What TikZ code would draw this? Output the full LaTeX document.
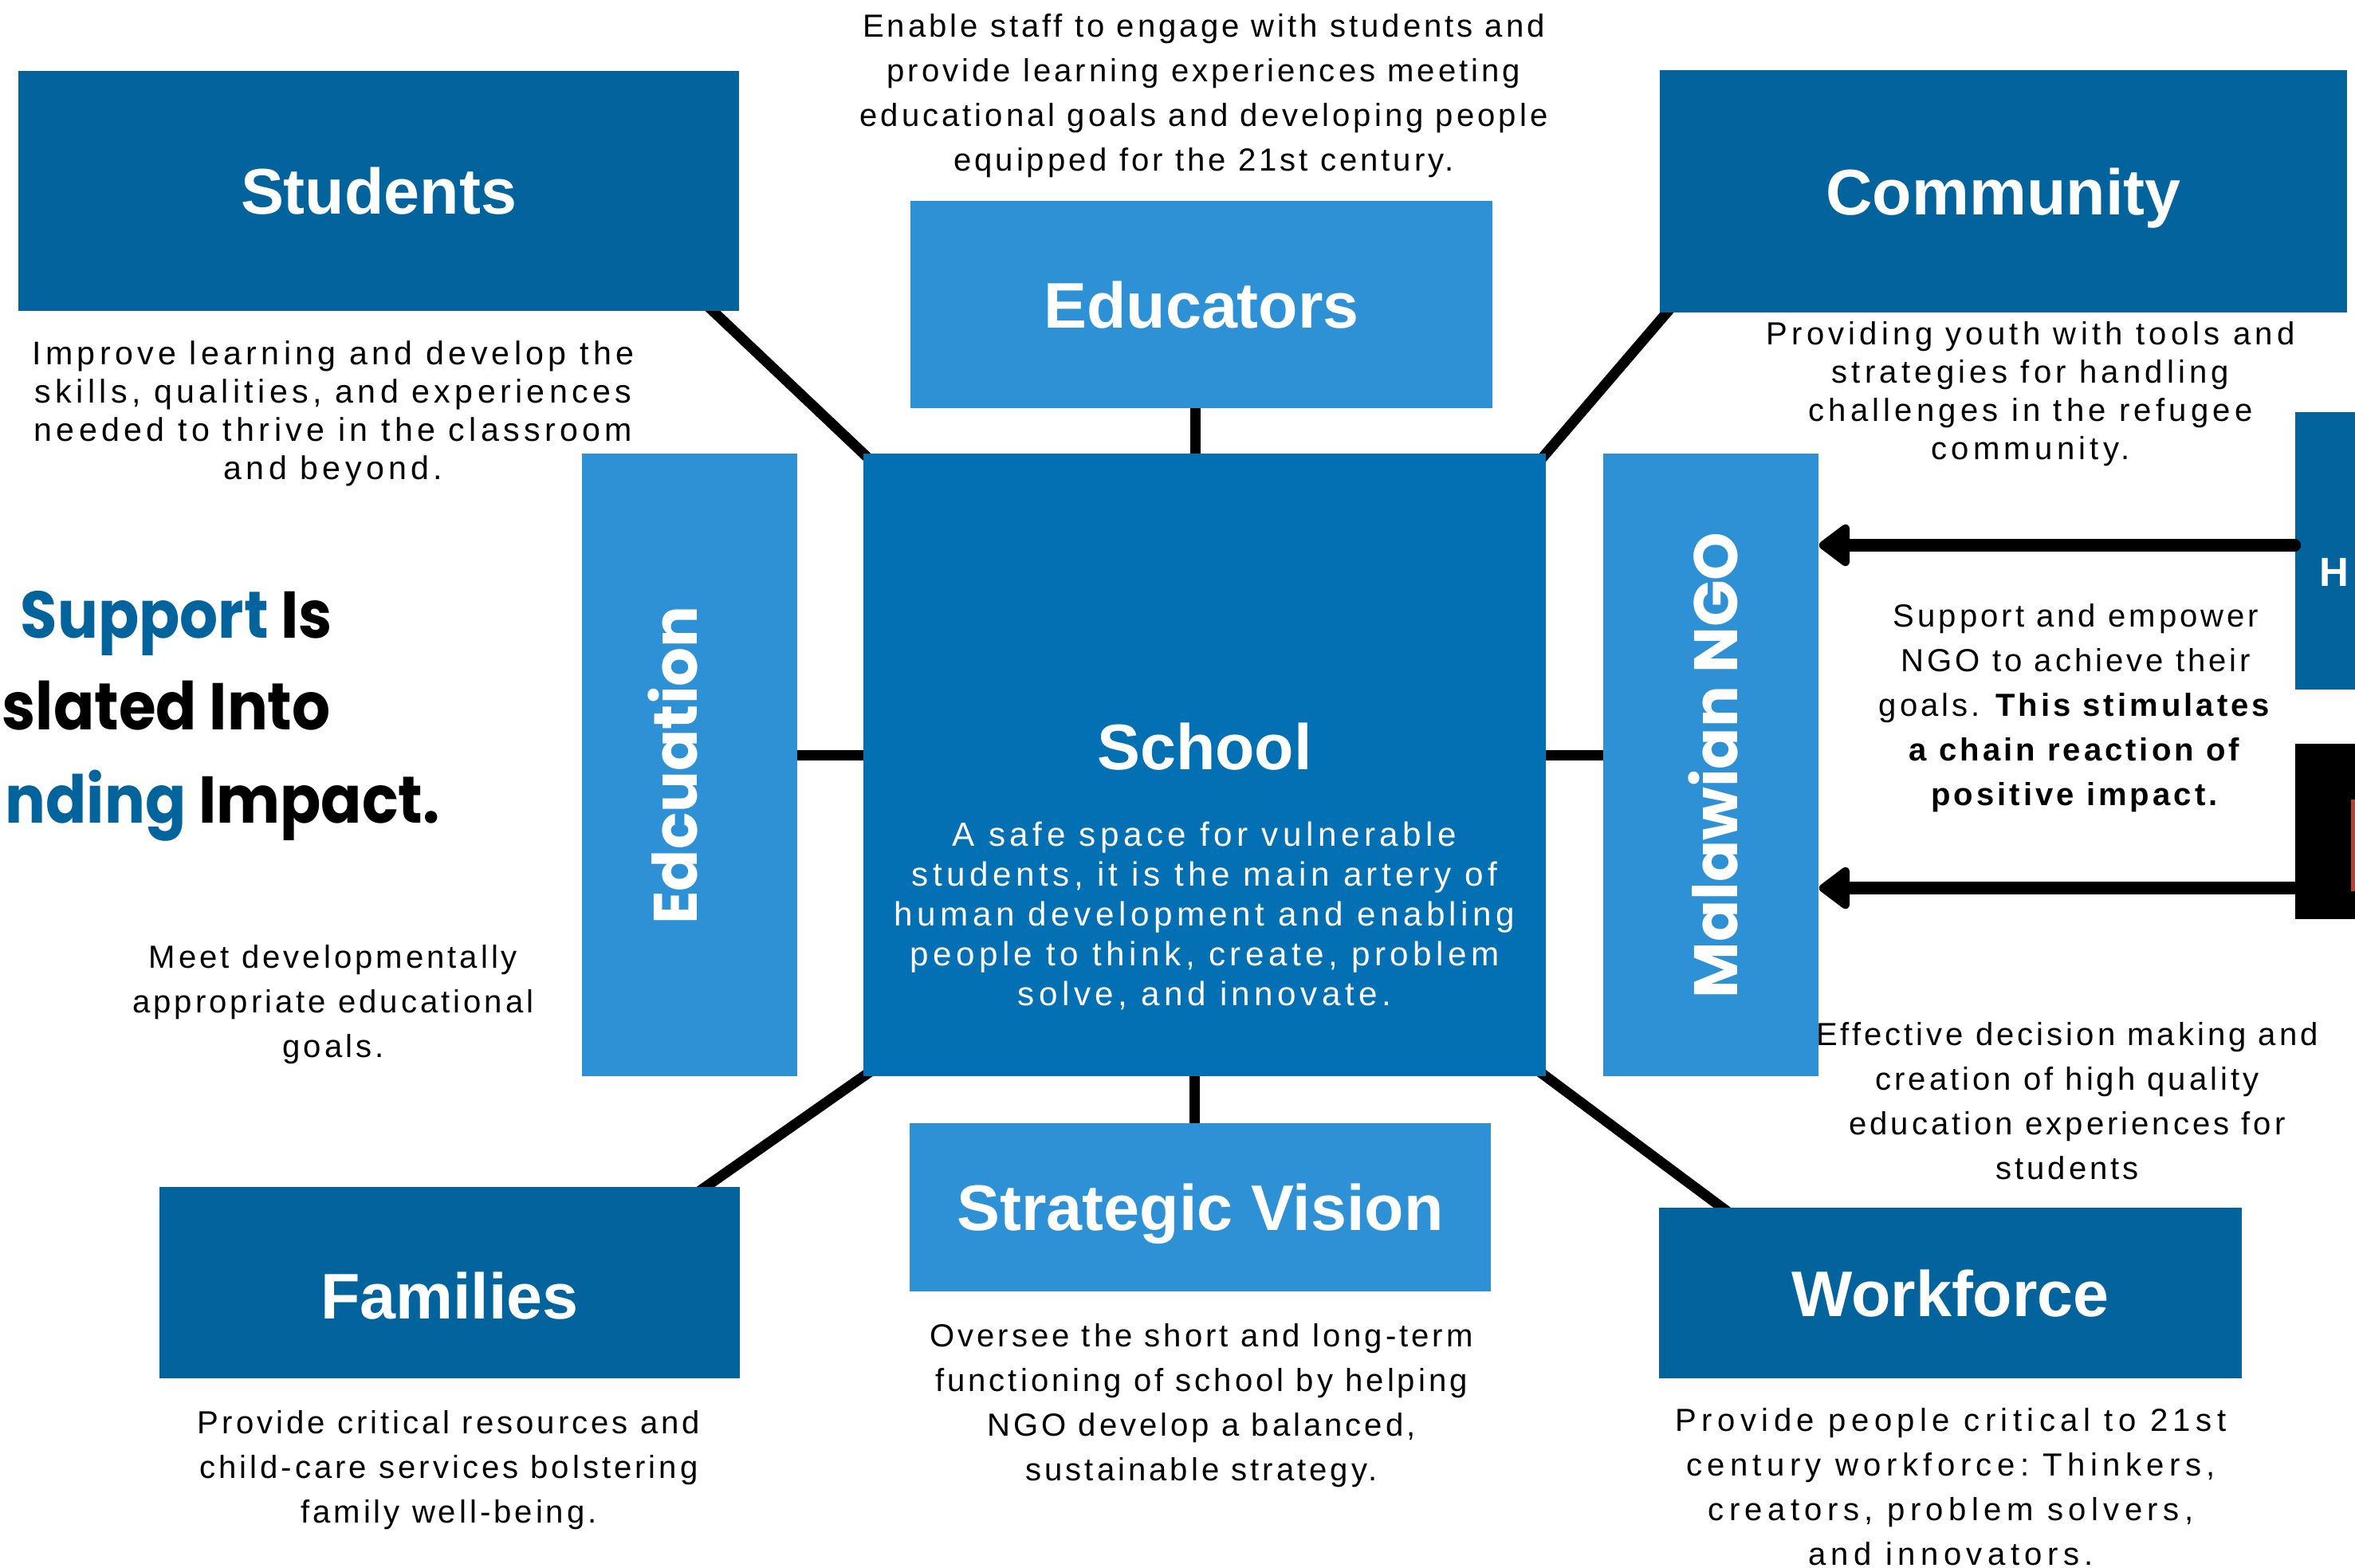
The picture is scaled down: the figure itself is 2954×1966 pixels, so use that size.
\documentclass[tikz,border=0pt]{standalone}
\usepackage{fontspec}
\setmainfont{Liberation Sans}
\newfontfamily\descfont{Liberation Sans}[LetterSpace=10]
\newfontfamily\widefont{Liberation Sans}[LetterSpace=13]
\newfontfamily\widerfont{Liberation Sans}[LetterSpace=16]
\newfontfamily\headfont{Poppins}
\newfontfamily\bannerfont{Poppins}[FakeStretch=0.91]
\usetikzlibrary{arrows.meta}
\frenchspacing

\pgfdeclarelayer{bg}
\pgfsetlayers{bg,main}

\definecolor{darkblue}{HTML}{03639C}
\definecolor{schoolblue}{HTML}{0270B3}
\definecolor{lightblue}{HTML}{2E91D6}
\definecolor{sliver}{HTML}{B8442C}

\tikzset{
  box/.style={fill=#1, draw=none, inner sep=0pt, text=white, text height=16.6pt, text depth=0pt, font=\fontsize{23pt}{27pt}\selectfont\bfseries},
  sidelabel/.style={rotate=90, inner sep=0pt, text=white, font=\headfont\fontsize{21.9pt}{26pt}\selectfont\bfseries},
  desc/.style={anchor=north, inner sep=0pt, align=center, font=\descfont\fontsize{11.4pt}{#1}\selectfont},
  widedesc/.style={anchor=north, inner sep=0pt, align=center, font=\widefont\fontsize{11.7pt}{#1}\selectfont},
  headline/.style={anchor=base west, inner sep=0pt, font=\bannerfont\fontsize{23.6pt}{28pt}\selectfont\bfseries},
  link/.style={line width=3.7pt, shorten <=-5pt, shorten >=-5pt},
  feed/.style={line width=4.55pt, line cap=round, -{Triangle[length=0.42cm, width=0.6cm, round]}},
}

\begin{document}
\begin{tikzpicture}[x=0.01cm, y=-0.01cm]
    \useasboundingbox (0,0) rectangle (2954,1966);
    \clip (0,0) rectangle (2954,1966);

    % outer boxes
    \node[box=darkblue, minimum width=9.04cm, minimum height=3.01cm] (students) at (475,239.5) {Students};
    \node[box=lightblue, minimum width=7.30cm, minimum height=2.60cm] (educators) at (1507,382) {Educators};
    \node[box=darkblue, minimum width=8.62cm, minimum height=3.04cm] (community) at (2513,240) {Community};
    \node[box=darkblue, minimum width=7.28cm, minimum height=2.40cm, text height=25.7pt] (families) at (564,1609) {Families};
    \node[box=lightblue, minimum width=7.29cm, minimum height=2.11cm] (strategy) at (1505.5,1514.5) {Strategic Vision};
    \node[box=darkblue, minimum width=7.31cm, minimum height=2.14cm] (workforce) at (2446.5,1622) {Workforce};

    % middle row
    \node[box=schoolblue, minimum width=8.56cm, minimum height=7.81cm] (school) at (1511,959.5) {};
    \node[box=lightblue, minimum width=2.70cm, minimum height=7.81cm] (edu) at (865,959.5) {};
    \node[box=lightblue, minimum width=2.70cm, minimum height=7.81cm] (ngo) at (2146,959.5) {};
    \node[sidelabel] (edulabel) at (844,960) {Edcuation};
    \node[sidelabel] (ngolabel) at (2149,960) {Malawian NGO};

    % school text
    \node[box=schoolblue] (schooltitle) at (1511,936) {School};
    \node[widedesc=14.2pt, font=\widefont\fontsize{12pt}{14.2pt}\selectfont, text=white] (schooltext) at (1511,1030) {A safe space for vulnerable\\students, it is the main artery of\\human development and enabling\\people to think, create, problem\\solve, and innovate.};

    % boxes cut by the right edge
    \node[box=darkblue, minimum width=1.21cm, minimum height=3.48cm] (hbox) at (2939.5,691) {};
    \node[inner sep=0pt, text=white, font=\fontsize{14.5pt}{17pt}\selectfont\bfseries] (hletter) at (2928,718) {H};
    \node[box=black, minimum width=1.21cm, minimum height=2.20cm] (blackbox) at (2939.5,1043) {};
    \fill[sliver] (2949,1003) rectangle (2954,1118);

    % connectors
    \begin{pgfonlayer}{bg}
        \draw[link] (school.north west) -- ([xshift=-9.4pt]students.south east);
        \draw[link] (school.north east) -- ([xshift=2.6pt]community.south west);
        \draw[link] (school.south west) -- ([xshift=-12.2pt]families.north east);
        \draw[link] (school.south east) -- ([xshift=22.5pt]workforce.north west);
        \draw[link] ([xshift=-2pt]educators.south) -- ([xshift=-2pt]educators.south |- school.north);
        \draw[link] ([xshift=-2pt]strategy.north) -- ([xshift=-2pt]strategy.north |- school.south);
        \draw[link] ([yshift=3.4pt]edu.east) -- ([yshift=3.4pt]school.west);
        \draw[link] ([yshift=3.4pt]ngo.west) -- ([yshift=3.4pt]school.east);
    \end{pgfonlayer}

    % arrows into the NGO
    \draw[feed] ([yshift=2pt]hbox.west) -- ([yshift=2pt]hbox.west -| ngo.east);
    \draw[feed] ([yshift=-20.2pt]blackbox.west) -- ([yshift=-20.2pt]blackbox.west -| ngo.east);

    % descriptions
    \node[desc=15.9pt] (educatorsnote) at (1510,17) {Enable staff to engage with students and\\provide learning experiences meeting\\educational goals and developing people\\equipped for the 21st century.};
    \node[widedesc=13.66pt] (studentsnote) at (418,427) {Improve learning and develop the\\skills, qualities, and experiences\\needed to thrive in the classroom\\and beyond.};
    \node[widedesc=13.66pt, font=\widefont\fontsize{11.4pt}{13.66pt}\selectfont] (communitynote) at (2547,403) {Providing youth with tools and\\strategies for handling\\challenges in the refugee\\community.};
    \node[desc=15.9pt] (ngonote) at (2604,757) {Support and empower\\NGO to achieve their\\goals. \textbf{This stimulates}\\\textbf{a chain reaction of}\\\textbf{positive impact.}};
    \node[desc=15.9pt] (educationnote) at (418,1185) {Meet developmentally\\appropriate educational\\goals.};
    \node[desc=15.9pt] (decisionnote) at (2593,1282) {Effective decision making and\\creation of high quality\\education experiences for\\students};
    \node[desc=15.9pt] (familiesnote) at (563,1769) {Provide critical resources and\\child-care services bolstering\\family well-being.};
    \node[desc=15.9pt] (strategynote) at (1507,1660) {Oversee the short and long-term\\functioning of school by helping\\NGO develop a balanced,\\sustainable strategy.};
    \node[desc=15.9pt, font=\widerfont\fontsize{11.4pt}{15.9pt}\selectfont] (workforcenote) at (2447,1766) {Provide people critical to 21st\\century workforce: Thinkers,\\creators, problem solvers,\\and innovators.};

    % headline cut by the left edge
    \node[headline] (head1) at (25,800) {\textcolor{darkblue}{Support} Is};
    \node[headline] (head2) at (2,915) {slated Into};
    \node[headline] (head3) at (6,1032) {\textcolor{darkblue}{nding} Impact.};
\end{tikzpicture}
\end{document}
